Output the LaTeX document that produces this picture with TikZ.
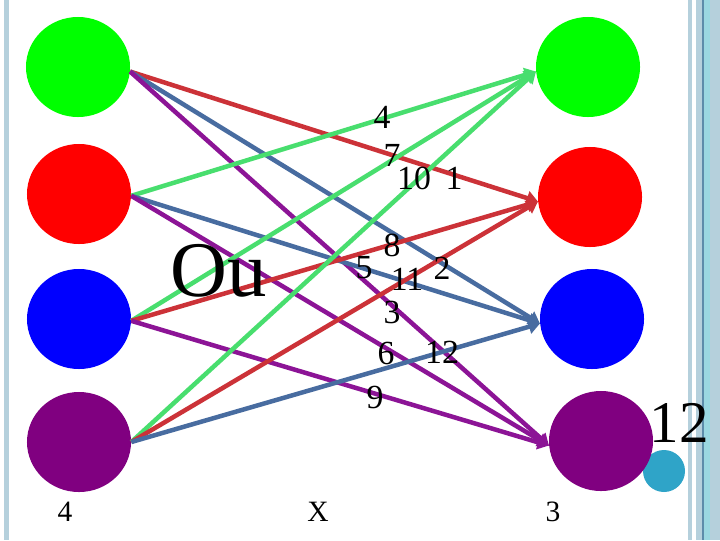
\documentclass[tikz,border=0pt]{standalone}
\usepackage{fontspec}
\setmainfont{Liberation Serif}
\usetikzlibrary{arrows.meta,shapes.geometric}

\definecolor{ballgreen}{RGB}{0,255,0}
\definecolor{ballred}{RGB}{255,0,0}
\definecolor{ballblue}{RGB}{0,0,255}
\definecolor{ballpurple}{RGB}{128,0,128}
\definecolor{linegreen}{RGB}{72,222,110}
\definecolor{linered}{RGB}{204,50,56}
\definecolor{lineblue}{RGB}{72,108,160}
\definecolor{linepurple}{RGB}{140,20,150}
\definecolor{barblue}{RGB}{181,208,220}
\definecolor{bardark}{RGB}{92,140,170}
\definecolor{dotcyan}{RGB}{47,164,200}

\begin{document}
\begin{tikzpicture}[x=0.025cm, y=-0.025cm, ball/.style={ellipse, draw=none, inner sep=0pt, minimum width=2.6cm, minimum height=2.5cm}, link/.style={-{Triangle[length=8pt, width=10pt]}, line width=3.2pt}, num/.style={inner sep=0pt, font=\fontsize{24}{24}\selectfont}, foot/.style={inner sep=0pt, font=\fontsize{21}{21}\selectfont}]
\useasboundingbox (0,0) rectangle (720,540);
\fill[white] (0,0) rectangle (720,540);
% side bars
\fill[barblue] (4,0) rectangle (9,540);
\fill[barblue] (688,0) rectangle (692,540);
\fill[barblue] (696,0) rectangle (702,540);
\fill[bardark] (702,0) rectangle (703.5,540);
\fill[barblue!85!cyan] (703.5,0) rectangle (710,540);
\fill[barblue] (710,0) rectangle (720,540);
\fill[dotcyan] (664,471) circle (21);
% left column
\node[ball, fill=ballgreen] (g1) at (78,67) {};
\node[ball, fill=ballred] (r1) at (79,194) {};
\node[ball, fill=ballblue] (b1) at (79,319) {};
\node[ball, fill=ballpurple] (p1) at (79,442) {};
% right column
\node[ball, fill=ballgreen] (g2) at (588,67) {};
\node[ball, fill=ballred] (r2) at (590,197) {};
\node[ball, fill=ballblue] (b2) at (592,319) {};
\node[ball, fill=ballpurple] (p2) at (601,441) {};
% links, coloured by target
\draw[link, linered] (g1.355) -- (r2.185); \draw[link, lineblue] (g1.355) -- (b2.185); \draw[link, linepurple] (g1.355) -- (p2.185);
\draw[link, linegreen] (r1.358) -- (g2.185); \draw[link, lineblue] (r1.358) -- (b2.185); \draw[link, linepurple] (r1.358) -- (p2.185);
\draw[link, linegreen] (b1.358) -- (g2.185); \draw[link, linered] (b1.358) -- (r2.185); \draw[link, linepurple] (b1.358) -- (p2.185);
\draw[link, linegreen] (p1.0) -- (g2.185); \draw[link, linered] (p1.0) -- (r2.185); \draw[link, lineblue] (p1.0) -- (b2.185);
% numbers
\node[num] (n4) at (382,117) {4};
\node[num] (n7) at (392,155) {7};
\node[num] (n10) at (414,178) {10};
\node[num] (n1) at (454,178) {1};
\node[num] (n8) at (392,245) {8};
\node[num] (n5) at (364,268) {5};
\node[num] (n11) at (407,279) {11};
\node[num] (n2) at (442,268) {2};
\node[num] (n3) at (392,312) {3};
\node[num] (n6) at (386,353) {6};
\node[num] (n12) at (442,352) {12};
\node[num] (n9) at (375,397) {9};
\node[inner sep=0pt, font=\fontsize{56}{56}\selectfont] (ou) at (219,271) {Ou};
\node[inner sep=0pt, font=\fontsize{42}{42}\selectfont] (big) at (679,423) {12};
\node[foot] (fl) at (65,512) {4};
\node[foot] (fx) at (318,512) {X};
\node[foot] (fr) at (553,512) {3};
\end{tikzpicture}
\end{document}
